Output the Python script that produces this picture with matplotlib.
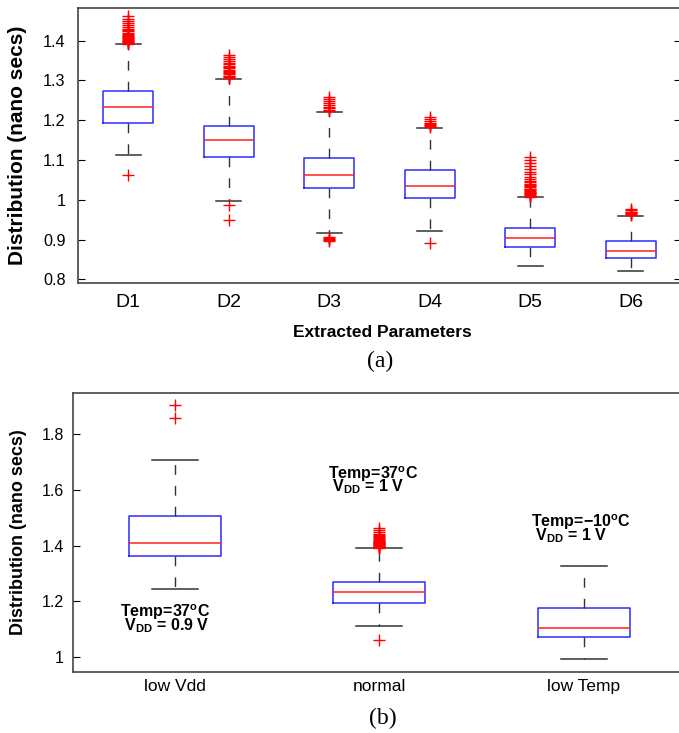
import numpy as np
import matplotlib
matplotlib.use('Agg')
from matplotlib import pyplot as plt
from matplotlib.ticker import FuncFormatter

plt.rcParams['font.family'] = ['Liberation Sans', 'DejaVu Sans']
plt.rcParams['mathtext.fontset'] = 'custom'
plt.rcParams['mathtext.rm'] = 'Liberation Sans'
plt.rcParams['mathtext.bf'] = 'Liberation Sans:bold'

### data, panel (a)
params = ['D1', 'D2', 'D3', 'D4', 'D5', 'D6']
a_q1 = [1.192, 1.108, 1.029, 1.004, 0.880, 0.853]
a_med = [1.234, 1.149, 1.062, 1.035, 0.905, 0.872]
a_q3 = [1.273, 1.186, 1.106, 1.075, 0.930, 0.896]
a_whislo = [1.113, 0.996, 0.916, 0.921, 0.834, 0.822]
a_whishi = [1.391, 1.304, 1.220, 1.180, 1.006, 0.960]
a_fliers = [
    [1.061, 1.392, 1.394, 1.396, 1.398, 1.400, 1.402, 1.404, 1.406, 1.408,
     1.410, 1.412, 1.414, 1.417, 1.420, 1.423, 1.426, 1.430, 1.434, 1.438,
     1.443, 1.448, 1.455, 1.462],
    [0.950, 0.987, 1.306, 1.308, 1.310, 1.312, 1.315, 1.318, 1.321, 1.324,
     1.327, 1.330, 1.333, 1.336, 1.340, 1.344, 1.348, 1.353, 1.358, 1.364],
    [0.897, 0.899, 0.901, 0.903, 0.906, 1.222, 1.226, 1.230, 1.234, 1.238,
     1.243, 1.248, 1.253, 1.258],
    [0.892, 1.182, 1.185, 1.188, 1.191, 1.194, 1.198, 1.203, 1.208],
    [1.008, 1.010, 1.012, 1.014, 1.016, 1.018, 1.020, 1.022, 1.024, 1.026,
     1.028, 1.031, 1.034, 1.037, 1.040, 1.044, 1.048, 1.053, 1.058, 1.064,
     1.070, 1.077, 1.085, 1.093, 1.100, 1.107],
    [0.962, 0.964, 0.966, 0.968, 0.970, 0.973, 0.976],
]

### data, panel (b)
conditions = ['low Vdd', 'normal', 'low Temp']
b_q1 = [1.362, 1.192, 1.072]
b_med = [1.409, 1.234, 1.104]
b_q3 = [1.507, 1.270, 1.174]
b_whislo = [1.245, 1.112, 0.992]
b_whishi = [1.709, 1.390, 1.326]
b_fliers = [
    [1.860, 1.905],
    [1.060, 1.392, 1.394, 1.396, 1.398, 1.400, 1.402, 1.404, 1.406, 1.408,
     1.410, 1.412, 1.414, 1.417, 1.420, 1.423, 1.426, 1.430, 1.434, 1.438,
     1.443, 1.448, 1.455, 1.462],
    [],
]
temp_labels = ['Temp=37$^{\\mathbf{o}}$C', 'Temp=37$^{\\mathbf{o}}$C',
               'Temp=\u221210$^{\\mathbf{o}}$C']
vdd_labels = [' V$_{\\mathbf{DD}}$ = 0.9 V', ' V$_{\\mathbf{DD}}$ = 1 V',
              ' V$_{\\mathbf{DD}}$ = 1 V']
label_x = [0.731, 1.749, 2.744]
vdd_y = [1.096, 1.594, 1.420]


def make_stats(labels, q1, med, q3, lo, hi, fliers):
    return [dict(label=l, q1=a, med=m, q3=b, whislo=w0, whishi=w1,
                 fliers=np.array(f))
            for l, a, m, b, w0, w1, f in zip(labels, q1, med, q3, lo, hi, fliers)]


def draw_boxes(ax, stats, width):
    ax.bxp(stats, widths=width, capwidths=width/2, showfliers=True,
           boxprops=dict(color='#2b2bff', linewidth=1.1),
           medianprops=dict(color='#ff2020', linewidth=1.1),
           whiskerprops=dict(color='#333333', linewidth=1.0,
                             linestyle=(0, (7, 8))),
           capprops=dict(color='#333333', linewidth=1.1),
           flierprops=dict(marker='+', markeredgecolor='red',
                           markersize=8, markeredgewidth=1.0))
    ax.tick_params(axis='y', direction='in', length=5, right=True)
    ax.tick_params(axis='x', length=0)
    ax.yaxis.set_major_formatter(FuncFormatter(lambda v, p: '%g' % round(v, 2)))
    for s in ax.spines.values():
        s.set_color('#444444')
        s.set_linewidth(1.2)


fig = plt.figure(figsize=(6.79, 7.33), dpi=100)

### (a) extracted parameters
ax1 = fig.add_axes([0.1149, 0.6135, 0.888, 0.3752])
draw_boxes(ax1, make_stats(params, a_q1, a_med, a_q3, a_whislo, a_whishi,
                           a_fliers), 0.5)
ax1.set_xlim(0.5, 6.5)
ax1.set_ylim(0.79, 1.481)
ax1.set_yticks([0.8, 0.9, 1.0, 1.1, 1.2, 1.3, 1.4])
ax1.tick_params(axis='y', labelsize=11.7, pad=9)
ax1.tick_params(axis='x', labelsize=14, pad=8)
ax1.set_ylabel('Distribution (nano secs)', fontsize=15, fontweight='bold')
ax1.yaxis.set_label_coords(-0.085, 0.5)
ax1.set_xlabel('Extracted Parameters', fontsize=12.5, fontweight='bold')
ax1.xaxis.set_label_coords(0.505, -0.152)
fig.text(380/679, 1 - 361/733, '(a)', family='Liberation Serif', fontsize=17,
         ha='center', va='center')

### (b) operating conditions
ax2 = fig.add_axes([0.1071, 0.0836, 0.9033, 0.3806])
draw_boxes(ax2, make_stats(conditions, b_q1, b_med, b_q3, b_whislo, b_whishi,
                           b_fliers), 0.45)
ax2.set_xlim(0.5, 3.5)
ax2.set_ylim(0.946, 1.95)
ax2.set_yticks([1.0, 1.2, 1.4, 1.6, 1.8])
ax2.tick_params(axis='y', labelsize=11.5, pad=6.5)
ax2.tick_params(axis='x', labelsize=12.5, pad=5)
ax2.set_ylabel('Distribution (nano secs)', fontsize=13, fontweight='bold')
ax2.yaxis.set_label_coords(-0.075, 0.5)
for x, vy, tl, vl in zip(label_x, vdd_y, temp_labels, vdd_labels):
    ax2.text(x, vy, tl + '\n' + vl, fontsize=11.5, fontweight='bold',
             ha='left', va='baseline', multialignment='left', linespacing=0.58)
fig.text(383/679, 1 - 718/733, '(b)', family='Liberation Serif', fontsize=17,
         ha='center', va='center')

fig.savefig('out.png', dpi=100)
